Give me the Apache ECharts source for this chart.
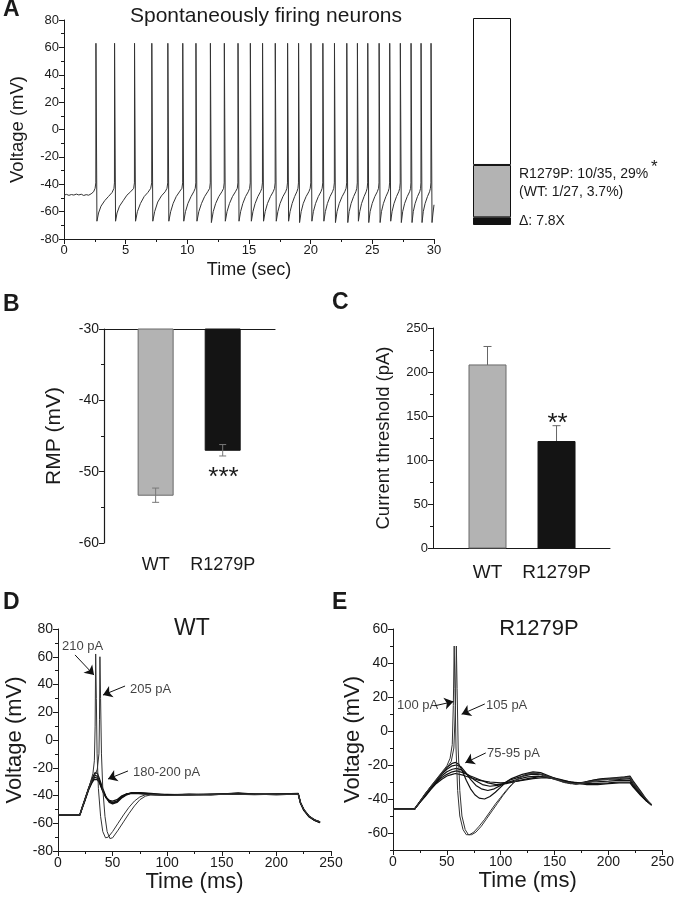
<!DOCTYPE html>
<html><head><meta charset="utf-8">
<script src="https://cdn.jsdelivr.net/npm/echarts@6/dist/echarts.min.js"></script>
<style>html,body{margin:0;padding:0;background:#fff}#c{width:677px;height:900px}</style>
</head><body><div id="c"></div>
<script>
// ---------- DATA ----------
// Panel A: spontaneous firing trace [time s, mV]
const traceA = [
[0,-48],[0.2,-47.4],[0.4,-48.1],[0.6,-47.5],[0.8,-47.9],[1.0,-47.2],[1.2,-47.8],[1.4,-47.3],[1.6,-48.2],[1.8,-47.6],[2.0,-48],[2.2,-47],[2.4,-45.5],[2.52,-43],[2.58,-39],[2.59,63],
[2.67,-67],[2.8,-61],[3.0,-56],[3.3,-52],[3.6,-49],[3.9,-46],[4.05,-43],[4.09,-39],[4.10,63],
[4.18,-67],[4.3,-61],[4.5,-56],[4.8,-52],[5.1,-48],[5.4,-45.5],[5.65,-43],[5.71,-39],[5.72,63],
[5.8,-67],[5.95,-60],[6.2,-54],[6.5,-49],[6.8,-46],[7.03,-43],[7.11,-39],[7.12,63],
[7.2,-67],[7.35,-60],[7.6,-53],[7.9,-48.5],[8.2,-45.5],[8.35,-43],[8.41,-39],[8.42,63],
[8.5,-67],[8.65,-60],[8.85,-54],[9.1,-49],[9.4,-45],[9.56,-43],[9.62,-39],[9.63,63],
[9.71,-67],[9.85,-60],[10.05,-54],[10.3,-49],[10.52,-45.5],[10.64,-43],[10.69,-39],[10.70,63],
[10.78,-67],[10.93,-60],[11.15,-54],[11.4,-49],[11.65,-45.5],[11.81,-43],[11.86,-39],[11.87,63],
[11.95,-68],[12.1,-60],[12.3,-54],[12.55,-49],[12.8,-45.5],[12.94,-43],[12.99,-39],[13.0,63],
[13.08,-67],[13.22,-60],[13.42,-54],[13.66,-49],[13.9,-45.5],[14.05,-43],[14.10,-39],[14.11,63],
[14.19,-67],[14.32,-60],[14.5,-54],[14.72,-49],[14.94,-45.5],[15.05,-43],[15.10,-39],[15.11,63],
[15.19,-67],[15.32,-60],[15.5,-54],[15.72,-49],[15.93,-45.5],[16.04,-43],[16.09,-39],[16.10,63],
[16.18,-67],[16.31,-60],[16.5,-54],[16.74,-49],[16.96,-45.5],[17.07,-43],[17.12,-39],[17.13,63],
[17.21,-67],[17.34,-60],[17.52,-54],[17.75,-49],[17.97,-45.5],[18.07,-43],[18.12,-39],[18.13,63],
[18.21,-67],[18.33,-60],[18.5,-54],[18.7,-49],[18.88,-45.5],[18.97,-43],[19.01,-39],[19.02,63],
[19.10,-68],[19.23,-60],[19.4,-54],[19.63,-49],[19.85,-45.5],[19.96,-43],[20.01,-39],[20.02,63],
[20.10,-67],[20.22,-60],[20.4,-54],[20.62,-49],[20.83,-45.5],[20.93,-43],[20.98,-39],[20.99,63],
[21.07,-67],[21.19,-60],[21.36,-54],[21.57,-49],[21.77,-45.5],[21.87,-43],[21.92,-39],[21.93,63],
[22.01,-68],[22.14,-60],[22.32,-54],[22.55,-49],[22.76,-45.5],[22.87,-43],[22.92,-39],[22.93,63],
[23.01,-68],[23.12,-60],[23.28,-54],[23.48,-49],[23.66,-45.5],[23.74,-43],[23.78,-39],[23.79,63],
[23.87,-67],[23.98,-60],[24.13,-54],[24.33,-49],[24.5,-45.5],[24.58,-43],[24.62,-39],[24.63,63],
[24.71,-68],[24.82,-60],[24.99,-54],[25.2,-49],[25.4,-45.5],[25.5,-43],[25.54,-39],[25.55,63],
[25.63,-68],[25.74,-60],[25.9,-54],[26.1,-49],[26.28,-45.5],[26.36,-43],[26.4,-39],[26.41,63],
[26.49,-67],[26.6,-60],[26.76,-54],[26.96,-49],[27.14,-45.5],[27.22,-43],[27.26,-39],[27.27,63],
[27.35,-68],[27.46,-60],[27.62,-54],[27.83,-49],[28.02,-45.5],[28.1,-43],[28.13,-39],[28.14,63],
[28.22,-68],[28.32,-60],[28.47,-54],[28.66,-49],[28.84,-45.5],[28.91,-43],[28.94,-39],[28.95,63],
[29.03,-68],[29.13,-60],[29.28,-54],[29.47,-49],[29.64,-45.5],[29.71,-43],[29.75,-39],[29.76,63],
[29.84,-68],[29.92,-61],[30.0,-55]
];
// Panel A stacked bar: % spontaneously firing
const firingR1279P = 29;   // 10/35
const firingWT = 3.7;      // 1/27
const firingLabels = ['R1279P: 10/35, 29%', '(WT: 1/27, 3.7%)', 'Δ: 7.8X'];

// Panels B, C
const groups = ['WT', 'R1279P'];
const rmpMean = [-53.3, -47.0];
const rmpErr = [1.0, 0.8];
const thrMean = [208, 121];
const thrErr = [21, 18];

// Panel D (WT) sweeps [ms, mV]
const d210 = [[0,-54],[20,-54],[22,-49],[25,-42],[28,-35],[30,-30],[32,-24],[33.3,-15],[34,10],[34.5,62],[35.1,30],[35.8,-10],[37,-35],[39,-55],[41,-66],[43.5,-70.5],[46,-70],[50,-66],[55,-60],[60,-54],[65,-48.5],[70,-44],[75,-41],[80,-39.5],[90,-39.5],[100,-40],[120,-39.5],[140,-39.5],[160,-39],[180,-39.5],[200,-39],[220,-39],[222,-45],[225,-50],[230,-55],[235,-57.5],[240,-59]];
const d205 = [[0,-54],[20,-54],[22,-49],[25,-42],[28,-35],[31,-29],[34,-25],[36,-21],[37.5,-10],[38,15],[38.4,60],[39,30],[39.8,-10],[41,-35],[43,-55],[45,-66],[47.5,-71],[50,-70.5],[55,-65],[60,-59],[65,-53],[70,-47.5],[75,-43],[80,-40.5],[85,-39.5],[100,-40],[120,-39.5],[140,-39],[160,-39],[180,-39],[200,-39.5],[220,-39],[222,-45],[225,-50],[230,-55],[235,-57.5],[240,-59]];
const d200 = [[0,-54],[20,-54],[22,-49],[25,-42],[28,-35],[31,-28],[34,-23.5],[36,-24],[38,-28],[41,-35],[44,-41],[47,-45],[50,-46],[54,-45],[58,-42],[63,-39.5],[68,-38],[75,-38],[85,-38.5],[100,-39.5],[120,-39],[140,-39.5],[165,-38.2],[180,-39],[200,-39],[220,-38.5],[222,-45],[225,-50],[230,-55],[235,-57.5],[240,-59]];
const d195 = [[0,-54.3],[20,-54.3],[22,-49],[25,-42],[28,-35],[31,-29],[33.5,-25.5],[36,-26],[38,-29.5],[41,-36],[44,-41.5],[47,-44.5],[50,-45.5],[54,-44.5],[58,-41.5],[63,-39],[68,-38],[75,-38.2],[85,-38.8],[100,-39.8],[120,-39.2],[140,-39.2],[165,-38.5],[180,-39.2],[200,-38.8],[220,-38.8],[222,-45],[225,-50.5],[230,-55.5],[235,-58],[240,-59.5]];
const d190 = [[0,-53.8],[20,-53.8],[22,-49],[25,-42.5],[28,-35.5],[31,-30],[33.5,-27],[36,-27.5],[38,-30.5],[41,-36.5],[44,-41.5],[47,-44],[50,-45],[54,-44],[58,-41],[63,-38.8],[68,-38.2],[75,-38.5],[85,-39],[100,-39.2],[120,-39.5],[140,-39],[165,-38.8],[180,-39],[200,-39.3],[220,-39],[222,-45.5],[225,-50.5],[230,-55],[235,-57.8],[240,-59.2]];
const d185 = [[0,-54],[20,-54],[22,-49.5],[25,-43],[28,-36],[31,-31],[33,-28.5],[36,-28.5],[38,-31],[41,-37],[44,-41.5],[47,-43.5],[50,-44],[54,-43],[58,-40.5],[63,-38.8],[70,-38.5],[80,-39],[90,-39.5],[110,-39.3],[130,-39.6],[150,-39],[170,-38.8],[190,-39.2],[210,-38.9],[220,-39],[222,-45],[225,-50],[230,-55.2],[235,-58],[240,-59.5]];
const dLabels = ['210 pA', '205 pA', '180-200 pA'];
const dLabelAt = [[3.7,67.2],[65.9,36.2],[68.7,-23.5]];
const dArrows = [[[15.6,61.3],[33,46.8]], [[61.4,38.9],[41.2,32.4]], [[64.1,-22.3],[45.8,-28.1]]];

// Panel E (R1279P) sweeps [ms, mV]
const e100 = [[0,-46],[20,-46],[25,-41.5],[30,-37],[35,-32.5],[40,-28.5],[45,-24.5],[50,-20.5],[53,-16],[55,-8],[56,15],[56.8,50],[57.5,25],[58.5,-10],[60,-35],[62,-50],[65,-58],[68,-61],[71,-61],[75,-59.5],[80,-56],[85,-52],[90,-47.5],[95,-43],[100,-39],[105,-35],[110,-31.5],[115,-28.5],[120,-26.5],[125,-25],[130,-24.5],[135,-25],[140,-26],[150,-28],[160,-30],[170,-31.5],[180,-30.5],[190,-29],[200,-28],[210,-27.5],[220,-27],[223,-30],[230,-36],[235,-40],[240,-43.5]];
const e105 = [[0,-46],[20,-46],[25,-41.5],[30,-37],[35,-33],[40,-29],[45,-25],[50,-21.5],[54,-18],[56.5,-10],[58,15],[58.8,50],[59.5,25],[60.5,-10],[62,-35],[64,-50],[67,-58],[70,-61],[73,-61],[77,-59.5],[82,-56],[87,-51.5],[92,-47],[97,-42.5],[102,-38],[107,-34],[112,-30.5],[117,-28],[122,-26],[128,-25],[134,-25],[140,-26.5],[150,-28.5],[160,-30.5],[170,-31],[180,-30],[190,-29],[200,-28.5],[210,-28],[220,-27.5],[223,-30.5],[230,-36.5],[235,-40],[240,-43.5]];
const e95 = [[0,-46],[20,-46],[25,-41.5],[30,-37],[35,-33],[40,-29],[45,-25],[50,-21.5],[55,-19],[58,-18.5],[61,-19.5],[64,-23],[68,-29],[72,-34],[76,-37.5],[80,-39.5],[85,-40],[90,-38.5],[95,-36],[100,-33],[105,-30],[110,-28],[120,-25.5],[130,-24],[137,-24.5],[145,-26.5],[155,-29],[165,-31],[175,-30.5],[185,-29],[195,-28],[205,-27.5],[215,-27],[220,-26.5],[223,-29.5],[230,-35.5],[235,-40],[240,-43.5]];
const e90 = [[0,-46],[20,-46],[25,-41.5],[30,-37],[35,-33],[40,-29.5],[45,-25.5],[50,-22.5],[55,-20.5],[59,-20],[63,-21],[67,-24],[72,-28.5],[77,-32],[82,-34],[88,-35],[94,-34],[100,-32],[108,-29],[118,-27],[128,-25.5],[138,-25.5],[148,-27.5],[158,-30],[168,-31],[178,-30],[190,-28.5],[200,-28],[210,-28.5],[220,-28],[223,-31],[230,-36.5],[235,-40.5],[240,-43.5]];
const e85 = [[0,-46],[20,-46],[25,-41.5],[30,-37.5],[35,-33.5],[40,-30],[45,-26.5],[50,-24],[55,-22.5],[59,-22],[64,-23],[70,-26],[76,-29],[83,-31.5],[90,-32.5],[97,-32],[105,-30.5],[115,-28.5],[125,-27],[135,-26.5],[145,-27.5],[155,-29],[165,-30],[175,-30.5],[185,-30],[200,-29.5],[210,-29],[220,-29],[223,-32],[230,-37],[235,-40.5],[240,-43.5]];
const e80 = [[0,-46],[20,-46],[25,-42],[30,-38],[35,-34],[40,-30.5],[45,-27.5],[50,-25.5],[55,-24],[59,-23.5],[65,-24.5],[72,-26.5],[80,-28.5],[88,-30.5],[96,-31.5],[105,-31],[115,-29.5],[125,-28],[135,-27],[145,-27],[155,-28.5],[165,-30],[175,-31],[185,-31],[200,-30.5],[210,-30],[220,-30],[223,-32.5],[230,-37.5],[235,-41],[240,-43.5]];
const e75 = [[0,-46],[20,-46],[25,-42],[30,-38.5],[35,-34.5],[40,-31],[45,-28.5],[50,-26.5],[55,-25.5],[58,-25],[65,-26],[72,-27.5],[80,-29],[90,-30],[100,-30.5],[110,-30],[120,-29],[130,-28],[140,-27.5],[150,-28],[160,-29.5],[170,-30.5],[180,-31.5],[190,-31.5],[200,-31],[210,-30.5],[220,-30.5],[223,-33],[230,-38],[235,-41],[240,-43.5]];
const eLabels = ['100 pA', '105 pA', '75-95 pA'];
const eLabelAt = [[3.7,14.8],[86.4,14.8],[87.3,-12.9]];
const eArrows = [[[38.6,14.8],[56.1,17.3]], [[85.2,15.9],[63.7,9.9]], [[86.1,-12.9],[67.1,-18.7]]];

// ---------- CHART ----------
const FONT = "'Liberation Sans', Arial, Helvetica, sans-serif";
const INK = '#1a1a1a';
const chart = echarts.init(document.getElementById('c'), null, {renderer: 'canvas'});

function vaxis(o) {
  const lab = Object.assign({color: INK, fontSize: 13, fontFamily: FONT, margin: 5, showMinLabel: true, showMaxLabel: true}, o.label || {});
  const ax = {
    type: 'value', gridIndex: o.grid, min: o.min, max: o.max, interval: o.interval,
    position: o.position, offset: 0,
    axisLine: {show: o.line !== false, onZero: false, lineStyle: {color: INK, width: o.lineWidth || 1}},
    axisTick: Object.assign({show: o.ticks !== false, length: 5, lineStyle: {color: INK}}, o.tick || {}),
    minorTick: {show: !!o.minor, splitNumber: 2, length: 3, lineStyle: {color: INK}},
    splitLine: {show: false},
    axisLabel: lab,
    name: o.name || '', nameLocation: 'middle', nameGap: o.nameGap || 30,
    nameTextStyle: {color: INK, fontSize: o.nameSize || 18, fontFamily: FONT}
  };
  if (o.labelShow === false) ax.axisLabel.show = false;
  return ax;
}

function lineSeries(data, xi, yi, color, width) {
  return {type: 'line', data: data, xAxisIndex: xi, yAxisIndex: yi, showSymbol: false, symbol: 'none',
    lineStyle: {color: color, width: width}, silent: true, animation: false, z: 3};
}

const barColors = ['#b3b3b3', '#141414'];
const barStroke = ['#6a6a6a', '#141414'];
function barRender(base, w) {
  return function (params, api) {
    const x = api.value(0), y = api.value(1);
    const a = api.coord([x, base]), b = api.coord([x, y]);
    return {type: 'rect', shape: {x: a[0] - w / 2, y: Math.min(a[1], b[1]), width: w, height: Math.abs(b[1] - a[1])},
      style: {fill: barColors[params.dataIndex], stroke: barStroke[params.dataIndex], lineWidth: 1}};
  };
}
function errRender(cap, color) {
  return function (params, api) {
    const x = api.value(0), m = api.value(1), e = api.value(2);
    const hi = api.coord([x, m + e]), lo = api.coord([x, m - e]);
    const st = {stroke: color, lineWidth: 1};
    return {type: 'group', children: [
      {type: 'line', shape: {x1: hi[0], y1: hi[1], x2: lo[0], y2: lo[1]}, style: st},
      {type: 'line', shape: {x1: hi[0] - cap, y1: hi[1], x2: hi[0] + cap, y2: hi[1]}, style: st},
      {type: 'line', shape: {x1: lo[0] - cap, y1: lo[1], x2: lo[0] + cap, y2: lo[1]}, style: st}
    ]};
  };
}
function noteSeries(labels, at, arrows, xi, yi) {
  return {
    type: 'scatter', xAxisIndex: xi, yAxisIndex: yi, symbolSize: 0, silent: true, animation: false, z: 5,
    data: labels.map((t, i) => ({name: t, value: at[i]})),
    label: {show: true, position: [0, 0], align: 'left', verticalAlign: 'middle', formatter: p => p.name,
      color: '#111', fontSize: 13, fontFamily: FONT},
    markLine: {silent: true, animation: false, symbol: ['none', 'arrow'], symbolSize: 9,
      lineStyle: {color: '#111', width: 1, type: 'solid', opacity: 1}, label: {show: false},
      data: arrows.map(a => [{coord: a[0]}, {coord: a[1]}])}
  };
}

const grids = [
  {left: 63, top: 20, width: 371, height: 219},     // A trace
  {left: 473, top: 18, width: 38, height: 207},     // A stacked bar
  {left: 104, top: 329, width: 171, height: 214},   // B
  {left: 433, top: 328, width: 177, height: 220},   // C
  {left: 58, top: 629, width: 273, height: 222},    // D
  {left: 393, top: 629, width: 272, height: 221}    // E
];

const xAxes = [
  vaxis({grid: 0, min: 0, max: 30, interval: 5, minor: true, name: 'Time (sec)', nameGap: 22, nameSize: 18}),
  {type: 'category', gridIndex: 1, data: ['firing'], show: false},
  vaxis({grid: 2, min: -0.77, max: 1.78, position: 'top', ticks: false, labelShow: false, lineWidth: 1.2}),
  vaxis({grid: 2, min: -0.77, max: 1.78, position: 'bottom', line: false, ticks: false,
    label: {customValues: [0, 1], formatter: v => groups[Math.round(v)] || '', fontSize: 18, margin: 13}}),
  vaxis({grid: 3, min: -0.79, max: 1.775, position: 'bottom', ticks: false,
    label: {customValues: [0, 1], formatter: v => groups[Math.round(v)] || '', fontSize: 19, margin: 15}}),
  vaxis({grid: 4, min: 0, max: 250, interval: 50, minor: true, name: 'Time (ms)', nameGap: 19, nameSize: 22, label: {fontSize: 14}}),
  vaxis({grid: 5, min: 0, max: 250, interval: 50, minor: true, name: 'Time (ms)', nameGap: 19, nameSize: 22, label: {fontSize: 14}})
];
const yAxes = [
  vaxis({grid: 0, min: -80, max: 80, interval: 20, minor: true, name: 'Voltage (mV)', nameGap: 37, nameSize: 18.5, position: 'left'}),
  {type: 'value', gridIndex: 1, min: 0, max: 100, show: false},
  vaxis({grid: 2, min: -60, max: -30, interval: 10, minor: true, name: 'RMP (mV)', nameGap: 39, nameSize: 21, lineWidth: 1.2, label: {fontSize: 14}, position: 'left'}),
  vaxis({grid: 3, min: 0, max: 250, interval: 50, minor: true, name: 'Current threshold (pA)', nameGap: 40, nameSize: 18.5, position: 'left'}),
  vaxis({grid: 4, min: -80, max: 80, interval: 20, minor: true, name: 'Voltage (mV)', nameGap: 32, nameSize: 22, label: {fontSize: 14}, position: 'left'}),
  vaxis({grid: 5, min: -70, max: 60, interval: 10, name: 'Voltage (mV)', nameGap: 28, nameSize: 22, position: 'left',
    label: {fontSize: 14, formatter: v => (Math.abs(v % 20) === 0 ? String(v) : ''), customValues: [-60, -40, -20, 0, 20, 40, 60]},
    tick: {customValues: [-60, -40, -20, 0, 20, 40, 60]}}),
  vaxis({grid: 5, min: -70, max: 60, interval: 10, line: false, labelShow: false, tick: {length: 3}, position: 'left'})
];

const series = [
  lineSeries(traceA, 0, 0, '#333', 1),
  {type: 'bar', xAxisIndex: 1, yAxisIndex: 1, stack: 'f', barWidth: '100%', data: [firingWT],
    itemStyle: {color: '#111', borderColor: '#111', borderWidth: 1}, silent: true, animation: false},
  {type: 'bar', xAxisIndex: 1, yAxisIndex: 1, stack: 'f', barWidth: '100%', data: [firingR1279P - firingWT],
    itemStyle: {color: '#b3b3b3', borderColor: '#111', borderWidth: 1}, silent: true, animation: false},
  {type: 'bar', xAxisIndex: 1, yAxisIndex: 1, stack: 'f', barWidth: '100%', data: [100 - firingR1279P],
    itemStyle: {color: '#fff', borderColor: '#111', borderWidth: 1}, silent: true, animation: false},
  {type: 'custom', xAxisIndex: 2, yAxisIndex: 2, renderItem: barRender(-30, 35), encode: {x: 0, y: 1},
    data: groups.map((g, i) => [i, rmpMean[i], rmpErr[i]]), silent: true, animation: false, z: 2},
  {type: 'custom', xAxisIndex: 2, yAxisIndex: 2, renderItem: errRender(3.5, '#777'), encode: {x: 0, y: 1},
    data: groups.map((g, i) => [i, rmpMean[i], rmpErr[i]]), silent: true, animation: false, z: 3},
  {type: 'custom', xAxisIndex: 4, yAxisIndex: 3, renderItem: errRender(4, '#666'), encode: {x: 0, y: 1},
    data: groups.map((g, i) => [i, thrMean[i], thrErr[i]]), silent: true, animation: false, z: 2},
  {type: 'custom', xAxisIndex: 4, yAxisIndex: 3, renderItem: barRender(0, 37), encode: {x: 0, y: 1},
    data: groups.map((g, i) => [i, thrMean[i], thrErr[i]]), silent: true, animation: false, z: 3},
  lineSeries(d185, 5, 4, '#111', 1.3),
  lineSeries(d190, 5, 4, '#111', 1.3),
  lineSeries(d195, 5, 4, '#111', 1.3),
  lineSeries(d200, 5, 4, '#111', 1.3),
  lineSeries(d205, 5, 4, '#333', 1),
  lineSeries(d210, 5, 4, '#333', 1),
  noteSeries(dLabels, dLabelAt, dArrows, 5, 4),
  lineSeries(e75, 6, 5, '#111', 1.2),
  lineSeries(e80, 6, 5, '#111', 1.2),
  lineSeries(e85, 6, 5, '#111', 1.2),
  lineSeries(e90, 6, 5, '#111', 1.2),
  lineSeries(e95, 6, 5, '#111', 1.2),
  lineSeries(e100, 6, 5, '#333', 1),
  lineSeries(e105, 6, 5, '#333', 1),
  noteSeries(eLabels, eLabelAt, eArrows, 6, 5)
];

function txt(text, x, y, size, opts) {
  opts = opts || {};
  return {type: 'text', x: x, y: y, silent: true, z: 10,
    style: {text: text, font: (opts.bold ? 'bold ' : '') + size + 'px ' + FONT, fill: INK,
      align: opts.align || 'left', verticalAlign: 'middle', textAlign: opts.align || 'left', textVerticalAlign: 'middle'}};
}

const graphics = [
  txt('A', 3, 10, 23, {bold: true}),
  txt('B', 3, 305, 23, {bold: true}),
  txt('C', 332, 303, 23, {bold: true}),
  txt('D', 3, 603, 23, {bold: true}),
  txt('E', 332, 603, 23, {bold: true}),
  txt('Spontaneously firing neurons', 266, 16, 21, {align: 'center'}),
  txt('WT', 192, 629, 23, {align: 'center'}),
  txt('R1279P', 539, 629, 22, {align: 'center'}),
  txt(firingLabels[0], 519, 174, 14),
  txt('*', 651, 167, 17),
  txt(firingLabels[1], 519, 192, 14),
  txt(firingLabels[2], 519, 221, 14),
  txt('***', 223.5, 478, 26, {align: 'center'}),
  txt('**', 557.5, 424, 26, {align: 'center'})
];

chart.setOption({
  animation: false,
  backgroundColor: '#fff',
  textStyle: {fontFamily: FONT},
  grid: grids,
  xAxis: xAxes,
  yAxis: yAxes,
  series: series,
  graphic: {elements: graphics}
});
</script></body></html>
